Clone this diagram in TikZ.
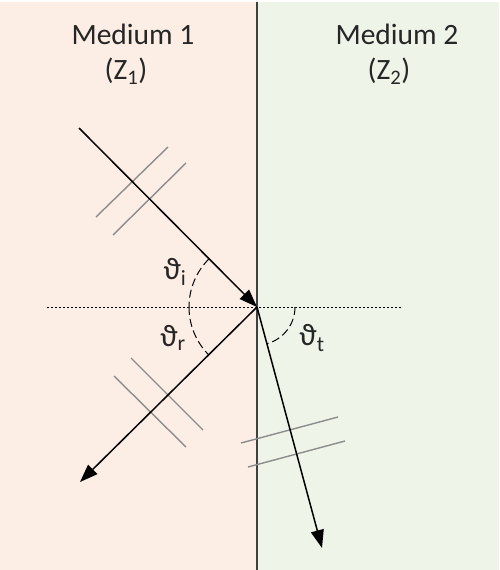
\documentclass[tikz,border=0pt]{standalone}
\usepackage{fontspec}
\setmainfont{Carlito}
\usepackage{tikz}
\usetikzlibrary{positioning, arrows.meta, calc}
\definecolor{peach}{RGB}{252, 238, 228}
\definecolor{mint}{RGB}{239, 244, 232}
\definecolor{hatchgray}{RGB}{140, 140, 140}

\begin{document}
\begin{tikzpicture}[x=1pt, y=-1pt,
  ray/.style={line width=1.5pt, -{Triangle[length=18pt, width=13pt]}},
  wavefront/.style={hatchgray, line width=1.4pt},
  anglearc/.style={line width=1pt, dash pattern=on 8pt off 4pt},
  medium/.style={text=black!85, font=\fontsize{29.5}{32}\selectfont},
  anglelabel/.style={text=black!85, font=\fontsize{31}{34}\selectfont}
]
    \useasboundingbox (0,0) rectangle (499,570);
    \fill[peach] (0,2) rectangle (257,570);
    \fill[mint] (257,2) rectangle (499,570);

    \coordinate (top) at (257,2);
    \coordinate (bottom) at (257,570);
    \coordinate (nleft) at (47,307);
    \coordinate (nright) at (402,307);
    \coordinate (O) at (257,307);
    \coordinate (src) at (79,128);
    \coordinate (refl) at (80,482);
    \coordinate (trans) at (322,548);

    \draw[line width=1.6pt, black!75] (top) -- (bottom);
    \draw[line width=1pt, dash pattern=on 2pt off 2pt] (nleft) -- (nright);

    \node[medium] (m1) at (133,34) {Medium 1};
    \node[medium] (z1) at (126,71) {(Z\textsubscript{1})};
    \node[medium] (m2) at (397,34) {Medium 2};
    \node[medium] (z2) at (389,71) {(Z\textsubscript{2})};

    % wave fronts
    \draw[wavefront] (96,217) -- (168,147);
    \draw[wavefront] (113,235) -- (186,163);
    \draw[wavefront] (131,358) -- (203,430);
    \draw[wavefront] (114,376) -- (186,447);
    \draw[wavefront] (241,443) -- (338,417);
    \draw[wavefront] (248,467) -- (345,441);

    \draw[ray] (src) -- (O);
    \draw[ray] (O) -- (refl);
    \draw[ray] (O) -- (trans);

    \draw[anglearc] (O) ++(225:68) arc[start angle=225, end angle=180, radius=68];
    \draw[anglearc] (O) ++(180:68) arc[start angle=180, end angle=135, radius=68];
    \draw[anglearc] (O) ++(0:38) arc[start angle=0, end angle=75, radius=38];

    \node[anglelabel] (ti) at (175,272) {ϑ\textsubscript{i}};
    \node[anglelabel] (tr) at (173,338) {ϑ\textsubscript{r}};
    \node[anglelabel] (tt) at (312,338) {ϑ\textsubscript{t}};
\end{tikzpicture}
\end{document}
